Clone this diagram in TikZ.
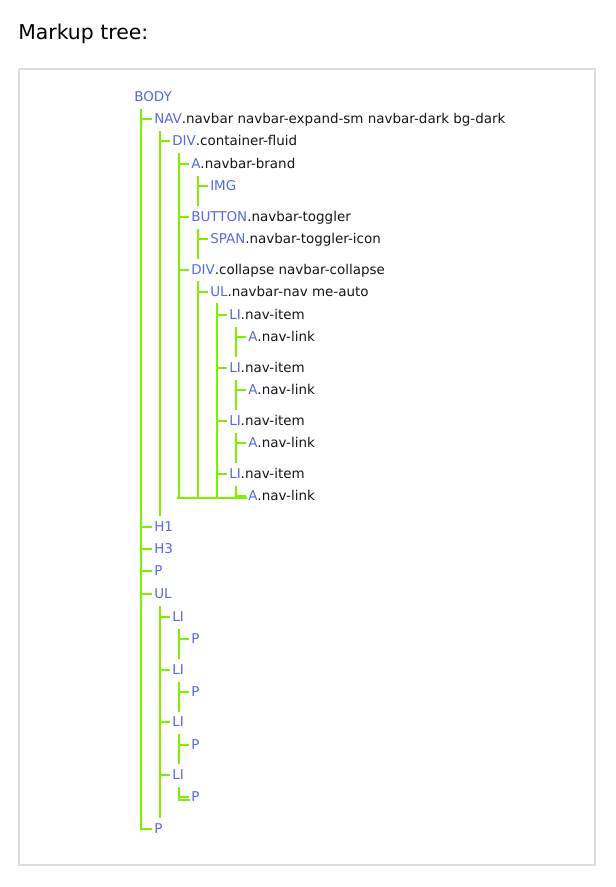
\documentclass[tikz,border=0pt]{standalone}
\usepackage{fontspec}
\setmainfont{DejaVu Sans}
\usetikzlibrary{calc}
\definecolor{tagblue}{RGB}{85,105,225}
\definecolor{ink}{RGB}{20,20,30}
\definecolor{branch}{RGB}{128,240,0}
\definecolor{frame}{RGB}{221,221,221}
\newcommand{\tg}[1]{\textcolor{tagblue}{#1}}
\begin{document}
\begin{tikzpicture}[x=0.75pt,y=-0.75pt,
  el/.style={anchor=west,inner sep=0pt,text height=9.6pt,text depth=2.3pt,
    font=\fontsize{10.1pt}{12pt}\selectfont,text=ink},
  wide/.style={draw=branch,line width=1.6pt},
  slim/.style={draw=branch,line width=0.9pt}]
\useasboundingbox (0,0) rectangle (616,887);
% heading and frame
\node[anchor=base west,inner sep=0pt,font=\fontsize{15.3pt}{18pt}\selectfont,text=black]
  (title) at (18,40) {Markup tree:};
\draw[frame,line width=0.8pt] (19,69) rectangle (595,865);
% elements of the tree
\node[el] (body)   at (134,97)  {\tg{BODY}};
\node[el] (nav)    at (154,119) {\tg{NAV}.navbar navbar-expand-sm navbar-dark bg-dark};
\node[el] (div1)   at (172,141) {\tg{DIV}.container-fluid};
\node[el] (abrand) at (191,164) {\tg{A}.navbar-brand};
\node[el] (img)    at (210,186) {\tg{IMG}};
\node[el] (button) at (191,217) {\tg{BUTTON}.navbar-toggler};
\node[el] (span)   at (210,239) {\tg{SPAN}.navbar-toggler-icon};
\node[el] (div2)   at (191,270) {\tg{DIV}.collapse navbar-collapse};
\node[el] (ul1)    at (210,292) {\tg{UL}.navbar-nav me-auto};
\node[el] (li1)    at (229,315) {\tg{LI}.nav-item};
\node[el] (a1)     at (248,337) {\tg{A}.nav-link};
\node[el] (li2)    at (229,368) {\tg{LI}.nav-item};
\node[el] (a2)     at (248,390) {\tg{A}.nav-link};
\node[el] (li3)    at (229,421) {\tg{LI}.nav-item};
\node[el] (a3)     at (248,443) {\tg{A}.nav-link};
\node[el] (li4)    at (229,474) {\tg{LI}.nav-item};
\node[el] (a4)     at (248,496) {\tg{A}.nav-link};
\node[el] (h1)     at (154,527) {\tg{H1}};
\node[el] (h3)     at (154,549) {\tg{H3}};
\node[el] (p1)     at (154,571) {\tg{P}};
\node[el] (ul2)    at (154,594) {\tg{UL}};
\node[el] (li5)    at (172,617) {\tg{LI}};
\node[el] (p2)     at (191,639) {\tg{P}};
\node[el] (li6)    at (172,670) {\tg{LI}};
\node[el] (p3)     at (191,692) {\tg{P}};
\node[el] (li7)    at (172,722) {\tg{LI}};
\node[el] (p4)     at (191,745) {\tg{P}};
\node[el] (li8)    at (172,775) {\tg{LI}};
\node[el] (p5)     at (191,797) {\tg{P}};
\node[el] (p6)     at (154,829) {\tg{P}};
% free ends of the branch lines
\coordinate (navend) at (160,516);
\coordinate (innerend) at (177,498);
\coordinate (ul2end) at (160,818);
% vertical branches
\draw[wide] ($(body.west)+(7,12)$) |- ($(p6.west)+(-2,0)$);
\draw[slim] ($(nav.west)+(6,12)$) -- (navend);
\draw[wide] ($(div1.west)+(7,12)$) -- (179,498);
\draw[slim] ($(abrand.west)+(7,12)$) -- ++(0,30);
\draw[slim] ($(button.west)+(7,12)$) -- ++(0,30);
\draw[slim] ($(div2.west)+(7,11)$) -- (198,498);
\draw[wide] ($(ul1.west)+(7,11)$) -- (217,498);
\foreach \n in {li1,li2,li3}
  \draw[slim] ($(\n.west)+(7,12)$) -- ++(0,30);
\draw[slim] ($(li4.west)+(7,12)$) -- (236,498);
\draw[wide] (innerend) -- (247,498);
\draw[slim] ($(ul2.west)+(6,12)$) -- (ul2end);
\foreach \n in {li5,li6,li7}
  \draw[wide] ($(\n.west)+(7,12)$) -- ++(0,30);
\draw[wide] ($(li8.west)+(7,12)$) |- (190,800);
% horizontal ticks
\draw[wide] (141,0 |- nav.west) -- ($(nav.west)+(-2,0)$);
\draw[slim] (160,0 |- div1.west) -- ($(div1.west)+(-2,0)$);
\draw[wide] (179,0 |- abrand.west) -- ($(abrand.west)+(-2,0)$);
\draw[slim] (198,0 |- img.west) -- ($(img.west)+(-2,0)$);
\draw[wide] (179,0 |- button.west) -- ($(button.west)+(-2,0)$);
\draw[slim] (198,0 |- span.west) -- ($(span.west)+(-2,0)$);
\draw[wide] (179,0 |- div2.west) -- ($(div2.west)+(-2,0)$);
\draw[slim] (198,0 |- ul1.west) -- ($(ul1.west)+(-2,0)$);
\foreach \n in {li1,li2,li3,li4}
  \draw[wide] (217,0 |- \n.west) -- ($(\n.west)+(-2,0)$);
\foreach \n in {a1,a2,a3,a4}
  \draw[slim] (236,0 |- \n.west) -- ($(\n.west)+(-2,0)$);
\draw[wide] (141,0 |- h1.west) -- ($(h1.west)+(-2,0)$);
\draw[slim] (141,0 |- h3.west) -- ($(h3.west)+(-2,0)$);
\draw[wide] (141,0 |- p1.west) -- ($(p1.west)+(-2,0)$);
\draw[slim] (141,0 |- ul2.west) -- ($(ul2.west)+(-2,0)$);
\foreach \n in {li5,li6,li7,li8}
  \draw[wide] (160,0 |- \n.west) -- ($(\n.west)+(-2,0)$);
\foreach \n in {p2,p3,p4,p5}
  \draw[slim] (179,0 |- \n.west) -- ($(\n.west)+(-2,0)$);
\end{tikzpicture}
\end{document}
